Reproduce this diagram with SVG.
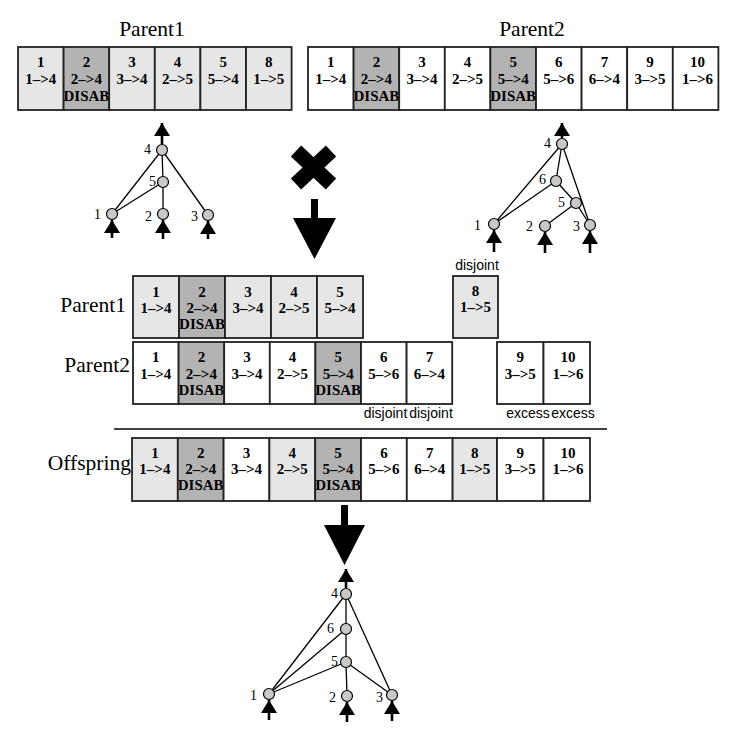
<svg xmlns="http://www.w3.org/2000/svg" width="736" height="742" viewBox="0 0 736 742">
<style>
.bg{fill:#ffffff}
.c{stroke:#222;stroke-width:1.8}
.w{fill:#ffffff}
.l{fill:#e6e6e6}
.d{fill:#b3b3b3}
.g{font-family:"Liberation Serif","Times New Roman",serif;font-weight:bold;font-size:15px;text-anchor:middle;fill:#000}
.t{font-family:"Liberation Serif","Times New Roman",serif;font-size:21.5px;fill:#000}
.s{font-family:"Liberation Sans",Arial,sans-serif;font-size:14px;text-anchor:middle;fill:#000}
.nl{font-family:"Liberation Serif","Times New Roman",serif;font-size:14px;text-anchor:end;fill:#000}
.e{stroke:#000;stroke-width:1.3;fill:none}
.n{fill:#c8c8c8;stroke:#000;stroke-width:1.2}
.a{stroke:#000;stroke-width:2.6;fill:none;marker-end:url(#ah)}
</style>
<defs>
<marker id="ah" markerUnits="userSpaceOnUse" markerWidth="14" markerHeight="16" refX="13" refY="8" orient="auto">
<path d="M0,0 L13,8 L0,16 Z" fill="#000"/>
</marker>
</defs>
<rect class="bg" x="0" y="0" width="736" height="742"/>

<!-- Top Parent1 genome -->
<text class="t" x="152" y="36" text-anchor="middle">Parent1</text>
<g id="p1-genome">
<g id="p1-g1"><rect class="c l" x="18" y="47" width="45.6" height="63"/><text class="g" x="40.8" y="67">1</text><text class="g" x="40.8" y="84">1–&gt;4</text></g>
<g id="p1-g2"><rect class="c d" x="63.6" y="47" width="45.6" height="63"/><text class="g" x="86.4" y="67">2</text><text class="g" x="86.4" y="84">2–&gt;4</text><text class="g" x="86.4" y="101">DISAB</text></g>
<g id="p1-g3"><rect class="c l" x="109.2" y="47" width="45.6" height="63"/><text class="g" x="132" y="67">3</text><text class="g" x="132" y="84">3–&gt;4</text></g>
<g id="p1-g4"><rect class="c l" x="154.8" y="47" width="45.6" height="63"/><text class="g" x="177.6" y="67">4</text><text class="g" x="177.6" y="84">2–&gt;5</text></g>
<g id="p1-g5"><rect class="c l" x="200.4" y="47" width="45.6" height="63"/><text class="g" x="223.2" y="67">5</text><text class="g" x="223.2" y="84">5–&gt;4</text></g>
<g id="p1-g8"><rect class="c l" x="246" y="47" width="45.6" height="63"/><text class="g" x="268.8" y="67">8</text><text class="g" x="268.8" y="84">1–&gt;5</text></g>
</g>

<!-- Top Parent2 genome -->
<text class="t" x="532" y="36" text-anchor="middle">Parent2</text>
<g id="p2-genome">
<g id="p2-g1"><rect class="c w" x="308" y="47" width="45.6" height="63"/><text class="g" x="330.8" y="67">1</text><text class="g" x="330.8" y="84">1–&gt;4</text></g>
<g id="p2-g2"><rect class="c d" x="353.6" y="47" width="45.6" height="63"/><text class="g" x="376.4" y="67">2</text><text class="g" x="376.4" y="84">2–&gt;4</text><text class="g" x="376.4" y="101">DISAB</text></g>
<g id="p2-g3"><rect class="c w" x="399.2" y="47" width="45.6" height="63"/><text class="g" x="422" y="67">3</text><text class="g" x="422" y="84">3–&gt;4</text></g>
<g id="p2-g4"><rect class="c w" x="444.8" y="47" width="45.6" height="63"/><text class="g" x="467.6" y="67">4</text><text class="g" x="467.6" y="84">2–&gt;5</text></g>
<g id="p2-g5"><rect class="c d" x="490.4" y="47" width="45.6" height="63"/><text class="g" x="513.2" y="67">5</text><text class="g" x="513.2" y="84">5–&gt;4</text><text class="g" x="513.2" y="101">DISAB</text></g>
<g id="p2-g6"><rect class="c w" x="536" y="47" width="45.6" height="63"/><text class="g" x="558.8" y="67">6</text><text class="g" x="558.8" y="84">5–&gt;6</text></g>
<g id="p2-g7"><rect class="c w" x="581.6" y="47" width="45.6" height="63"/><text class="g" x="604.4" y="67">7</text><text class="g" x="604.4" y="84">6–&gt;4</text></g>
<g id="p2-g9"><rect class="c w" x="627.2" y="47" width="45.6" height="63"/><text class="g" x="650" y="67">9</text><text class="g" x="650" y="84">3–&gt;5</text></g>
<g id="p2-g10"><rect class="c w" x="672.8" y="47" width="45.6" height="63"/><text class="g" x="697.5" y="67">10</text><text class="g" x="697.5" y="84">1–&gt;6</text></g>
</g>

<!-- Cross and arrows -->
<g id="cross">
<line x1="296" y1="151" x2="331" y2="184" stroke="#000" stroke-width="15"/>
<line x1="331" y1="151" x2="296" y2="184" stroke="#000" stroke-width="15"/>
</g>
<g id="down-arrow-1"><path d="M311,199 H318 V218 H336 L314.5,259 L293,218 H311 Z" fill="#000"/></g>
<g id="down-arrow-2"><path d="M341,505 H348 V525 H365 L344.5,565 L324,525 H341 Z" fill="#000"/></g>

<!-- Middle aligned -->
<text class="t" x="126" y="312" text-anchor="end">Parent1</text>
<g id="m1-genome">
<g id="m1-g1"><rect class="c l" x="133" y="276" width="46" height="62"/><text class="g" x="156" y="297">1</text><text class="g" x="156" y="313">1–&gt;4</text></g>
<g id="m1-g2"><rect class="c d" x="179" y="276" width="46" height="62"/><text class="g" x="202" y="297">2</text><text class="g" x="202" y="313">2–&gt;4</text><text class="g" x="202" y="329">DISAB</text></g>
<g id="m1-g3"><rect class="c l" x="225" y="276" width="46" height="62"/><text class="g" x="248" y="297">3</text><text class="g" x="248" y="313">3–&gt;4</text></g>
<g id="m1-g4"><rect class="c l" x="271" y="276" width="46" height="62"/><text class="g" x="294" y="297">4</text><text class="g" x="294" y="313">2–&gt;5</text></g>
<g id="m1-g5"><rect class="c l" x="317" y="276" width="46" height="62"/><text class="g" x="340" y="297">5</text><text class="g" x="340" y="313">5–&gt;4</text></g>
<g id="m1-g8"><rect class="c l" x="453" y="276" width="45" height="62"/><text class="g" x="475.5" y="296">8</text><text class="g" x="475.5" y="312">1–&gt;5</text></g>
</g>
<text class="s" x="477" y="270">disjoint</text>

<text class="t" x="130" y="372" text-anchor="end">Parent2</text>
<g id="m2-genome">
<g id="m2-g1"><rect class="c w" x="133" y="342" width="45.6" height="62"/><text class="g" x="155.8" y="362">1</text><text class="g" x="155.8" y="379">1–&gt;4</text></g>
<g id="m2-g2"><rect class="c d" x="178.6" y="342" width="45.6" height="62"/><text class="g" x="201.4" y="362">2</text><text class="g" x="201.4" y="379">2–&gt;4</text><text class="g" x="201.4" y="395">DISAB</text></g>
<g id="m2-g3"><rect class="c w" x="224.2" y="342" width="45.6" height="62"/><text class="g" x="247" y="362">3</text><text class="g" x="247" y="379">3–&gt;4</text></g>
<g id="m2-g4"><rect class="c w" x="269.8" y="342" width="45.6" height="62"/><text class="g" x="292.6" y="362">4</text><text class="g" x="292.6" y="379">2–&gt;5</text></g>
<g id="m2-g5"><rect class="c d" x="315.4" y="342" width="45.6" height="62"/><text class="g" x="338.2" y="362">5</text><text class="g" x="338.2" y="379">5–&gt;4</text><text class="g" x="338.2" y="395">DISAB</text></g>
<g id="m2-g6"><rect class="c w" x="361" y="342" width="45.6" height="62"/><text class="g" x="383.8" y="362">6</text><text class="g" x="383.8" y="379">5–&gt;6</text></g>
<g id="m2-g7"><rect class="c w" x="406.6" y="342" width="45.6" height="62"/><text class="g" x="429.4" y="362">7</text><text class="g" x="429.4" y="379">6–&gt;4</text></g>
<g id="m2-g9"><rect class="c w" x="497" y="342" width="46.5" height="62"/><text class="g" x="520.2" y="362">9</text><text class="g" x="520.2" y="379">3–&gt;5</text></g>
<g id="m2-g10"><rect class="c w" x="543.5" y="342" width="46.5" height="62"/><text class="g" x="568" y="362">10</text><text class="g" x="568" y="379">1–&gt;6</text></g>
</g>
<text class="s" x="385.5" y="418">disjoint</text>
<text class="s" x="431" y="418">disjoint</text>
<text class="s" x="528" y="418">excess</text>
<text class="s" x="573" y="418">excess</text>

<line x1="114" y1="429" x2="607" y2="429" stroke="#000" stroke-width="1.3"/>

<!-- Offspring -->
<text class="t" x="131" y="470" text-anchor="end">Offspring</text>
<g id="off-genome">
<g id="o-g1"><rect class="c l" x="132" y="438" width="45.8" height="63"/><text class="g" x="154.9" y="458">1</text><text class="g" x="154.9" y="474">1–&gt;4</text></g>
<g id="o-g2"><rect class="c d" x="177.8" y="438" width="45.8" height="63"/><text class="g" x="200.7" y="458">2</text><text class="g" x="200.7" y="474">2–&gt;4</text><text class="g" x="200.7" y="490">DISAB</text></g>
<g id="o-g3"><rect class="c w" x="223.6" y="438" width="45.8" height="63"/><text class="g" x="246.5" y="458">3</text><text class="g" x="246.5" y="474">3–&gt;4</text></g>
<g id="o-g4"><rect class="c l" x="269.4" y="438" width="45.8" height="63"/><text class="g" x="292.3" y="458">4</text><text class="g" x="292.3" y="474">2–&gt;5</text></g>
<g id="o-g5"><rect class="c d" x="315.2" y="438" width="45.8" height="63"/><text class="g" x="338.1" y="458">5</text><text class="g" x="338.1" y="474">5–&gt;4</text><text class="g" x="338.1" y="490">DISAB</text></g>
<g id="o-g6"><rect class="c w" x="361" y="438" width="45.8" height="63"/><text class="g" x="383.9" y="458">6</text><text class="g" x="383.9" y="474">5–&gt;6</text></g>
<g id="o-g7"><rect class="c w" x="406.8" y="438" width="45.8" height="63"/><text class="g" x="429.7" y="458">7</text><text class="g" x="429.7" y="474">6–&gt;4</text></g>
<g id="o-g8"><rect class="c l" x="452.6" y="438" width="44.4" height="63"/><text class="g" x="474.8" y="458">8</text><text class="g" x="474.8" y="474">1–&gt;5</text></g>
<g id="o-g9"><rect class="c w" x="497" y="438" width="46.5" height="63"/><text class="g" x="520.2" y="458">9</text><text class="g" x="520.2" y="474">3–&gt;5</text></g>
<g id="o-g10"><rect class="c w" x="543.5" y="438" width="46.5" height="63"/><text class="g" x="568" y="458">10</text><text class="g" x="568" y="474">1–&gt;6</text></g>
</g>

<!-- Network connectors -->
<g id="connectors">
<!-- Parent1 net -->
<line class="e" x1="162" y1="150" x2="112" y2="214"/>
<line class="e" x1="162" y1="150" x2="208" y2="215"/>
<line class="e" x1="162" y1="150" x2="163" y2="182"/>
<line class="e" x1="163" y1="182" x2="112" y2="214"/>
<line class="e" x1="163" y1="182" x2="163" y2="214"/>
<line class="a" x1="162" y1="144" x2="162" y2="123"/>
<line class="a" x1="112" y1="238" x2="112" y2="220"/>
<line class="a" x1="163" y1="239" x2="163" y2="220"/>
<line class="a" x1="208" y1="239" x2="208" y2="221"/>
<!-- Parent2 net -->
<line class="e" x1="562" y1="144" x2="494" y2="224"/>
<line class="e" x1="562" y1="144" x2="556" y2="181"/>
<line class="e" x1="562" y1="144" x2="590" y2="225"/>
<line class="e" x1="556" y1="181" x2="494" y2="224"/>
<line class="e" x1="556" y1="181" x2="576" y2="203"/>
<line class="e" x1="576" y1="203" x2="545" y2="226"/>
<line class="e" x1="576" y1="203" x2="590" y2="225"/>
<line class="a" x1="562" y1="138" x2="562" y2="123"/>
<line class="a" x1="494" y1="252" x2="494" y2="230"/>
<line class="a" x1="545" y1="253" x2="545" y2="232"/>
<line class="a" x1="590" y1="253" x2="590" y2="231"/>
<!-- Offspring net -->
<line class="e" x1="346" y1="594" x2="269" y2="694"/>
<line class="e" x1="346" y1="594" x2="346" y2="629"/>
<line class="e" x1="346" y1="594" x2="392" y2="695"/>
<line class="e" x1="346" y1="629" x2="269" y2="694"/>
<line class="e" x1="346" y1="629" x2="346" y2="662"/>
<line class="e" x1="346" y1="662" x2="269" y2="694"/>
<line class="e" x1="346" y1="662" x2="347" y2="696"/>
<line class="e" x1="346" y1="662" x2="392" y2="695"/>
<line class="a" x1="346" y1="588" x2="346" y2="569"/>
<line class="a" x1="269" y1="720" x2="269" y2="700"/>
<line class="a" x1="347" y1="722" x2="347" y2="702"/>
<line class="a" x1="392" y1="721" x2="392" y2="701"/>
</g>

<!-- Network nodes -->
<g id="p1-net">
<g id="p1-n4"><circle class="n" cx="162" cy="150" r="5.5"/><text class="nl" x="151" y="154">4</text></g>
<g id="p1-n5"><circle class="n" cx="163" cy="182" r="5.5"/><text class="nl" x="156" y="186">5</text></g>
<g id="p1-n1"><circle class="n" cx="112" cy="214" r="5.5"/><text class="nl" x="101" y="219">1</text></g>
<g id="p1-n2"><circle class="n" cx="163" cy="214" r="5.5"/><text class="nl" x="152" y="221">2</text></g>
<g id="p1-n3"><circle class="n" cx="208" cy="215" r="5.5"/><text class="nl" x="198" y="221">3</text></g>
</g>
<g id="p2-net">
<g id="p2-n4"><circle class="n" cx="562" cy="144" r="5.5"/><text class="nl" x="551" y="148">4</text></g>
<g id="p2-n6"><circle class="n" cx="556" cy="181" r="5.5"/><text class="nl" x="546" y="184">6</text></g>
<g id="p2-n5"><circle class="n" cx="576" cy="203" r="5.5"/><text class="nl" x="565" y="207">5</text></g>
<g id="p2-n1"><circle class="n" cx="494" cy="224" r="5.5"/><text class="nl" x="481" y="230">1</text></g>
<g id="p2-n2"><circle class="n" cx="545" cy="226" r="5.5"/><text class="nl" x="533" y="231">2</text></g>
<g id="p2-n3"><circle class="n" cx="590" cy="225" r="5.5"/><text class="nl" x="580" y="231">3</text></g>
</g>
<g id="off-net">
<g id="o-n4"><circle class="n" cx="346" cy="594" r="5.5"/><text class="nl" x="338" y="598">4</text></g>
<g id="o-n6"><circle class="n" cx="346" cy="629" r="5.5"/><text class="nl" x="334" y="633">6</text></g>
<g id="o-n5"><circle class="n" cx="346" cy="662" r="5.5"/><text class="nl" x="338" y="666">5</text></g>
<g id="o-n1"><circle class="n" cx="269" cy="694" r="5.5"/><text class="nl" x="257" y="700">1</text></g>
<g id="o-n2"><circle class="n" cx="347" cy="696" r="5.5"/><text class="nl" x="336" y="702">2</text></g>
<g id="o-n3"><circle class="n" cx="392" cy="695" r="5.5"/><text class="nl" x="383" y="702">3</text></g>
</g>
</svg>
